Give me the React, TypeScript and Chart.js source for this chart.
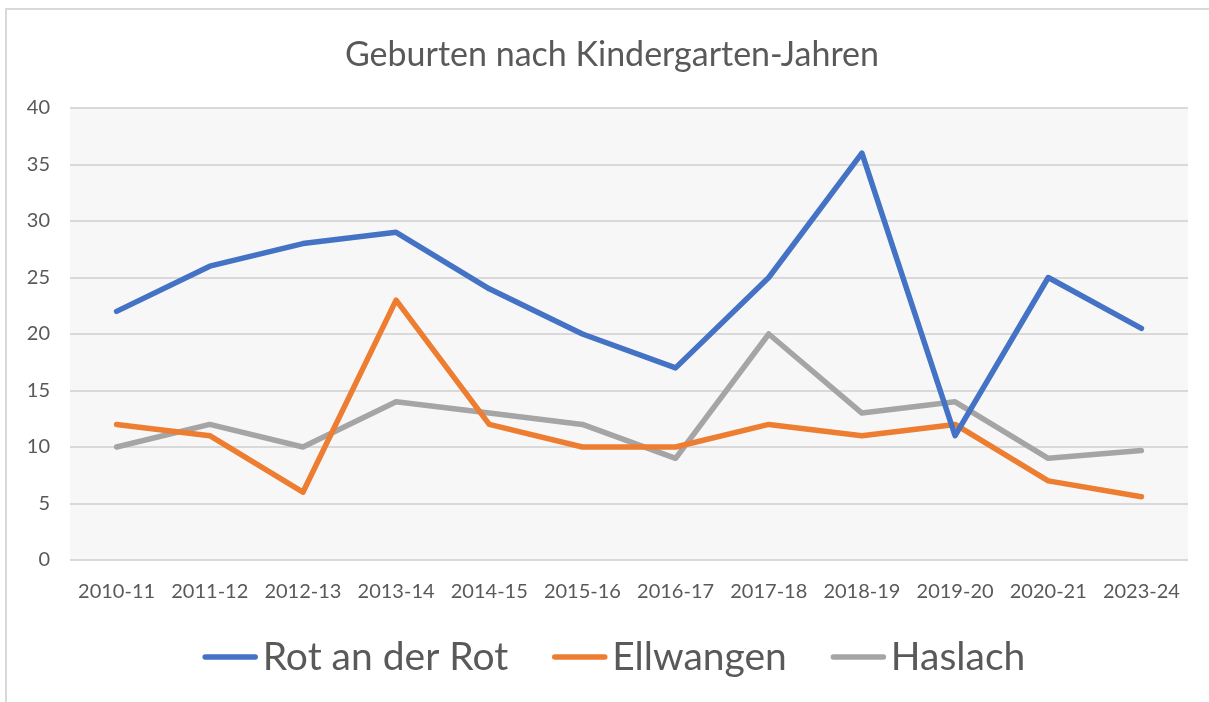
import React, { useEffect, useRef } from "react";
import { Chart, registerables } from "chart.js";

Chart.register(...registerables);

const categories = [
  "2010-11", "2011-12", "2012-13", "2013-14", "2014-15", "2015-16",
  "2016-17", "2017-18", "2018-19", "2019-20", "2020-21", "2023-24",
];
const rotAnDerRot = [22, 26, 28, 29, 24, 20, 17, 25, 36, 11, 25, 20.5];
const ellwangen = [12, 11, 6, 23, 12, 10, 10, 12, 11, 12, 7, 5.6];
const haslach = [10, 12, 10, 14, 13, 12, 9, 20, 13, 14, 9, 9.7];
const seriesNames = ["Rot an der Rot", "Ellwangen", "Haslach"];
const seriesColors = ["#4472C4", "#ED7D31", "#A5A5A5"];
const yMin = 0;
const yMax = 40;
const yStep = 5;
const chartTitle = "Geburten nach Kindergarten-Jahren";

const FONT = "Lato, 'Open Sans', sans-serif";
const TEXT = "#595959";

const framePlugin = {
  id: "frame",
  beforeDraw(chart: any) {
    const { ctx, chartArea } = chart;
    ctx.save();
    ctx.fillStyle = "#ffffff";
    ctx.fillRect(0, 0, chart.width, chart.height);
    ctx.strokeStyle = "#d9d9d9";
    ctx.lineWidth = 2;
    ctx.beginPath();
    ctx.moveTo(6, chart.height);
    ctx.lineTo(6, 9);
    ctx.lineTo(chart.width, 9);
    ctx.stroke();
    ctx.fillStyle = "#f7f7f7";
    ctx.fillRect(chartArea.left, chartArea.top, chartArea.right - chartArea.left, chartArea.bottom - chartArea.top);
    ctx.restore();
  },
};

const titlePlugin = {
  id: "customTitle",
  afterDraw(chart: any) {
    const ctx = chart.ctx;
    ctx.save();
    ctx.font = `34px ${FONT}`;
    ctx.fillStyle = TEXT;
    ctx.textAlign = "center";
    ctx.textBaseline = "middle";
    ctx.fillText(chartTitle, 612, 55);
    ctx.restore();
  },
};

const legendPlugin = {
  id: "customLegend",
  afterDraw(chart: any) {
    const ctx = chart.ctx;
    const lineLen = 55;
    const gap = 5;
    const spacing = 44;
    const centerX = 614;
    const centerY = 657;
    ctx.save();
    ctx.font = `39px ${FONT}`;
    const items = chart.data.datasets.map((ds: any) => ({
      label: ds.label,
      color: ds.borderColor,
      w: lineLen + gap + ctx.measureText(ds.label).width,
    }));
    const total = items.reduce((s: number, it: any) => s + it.w, 0) + spacing * (items.length - 1);
    let x = centerX - total / 2;
    for (const it of items) {
      ctx.strokeStyle = it.color;
      ctx.lineWidth = 5.5;
      ctx.lineCap = "round";
      ctx.beginPath();
      ctx.moveTo(x + 2.5, centerY);
      ctx.lineTo(x + lineLen - 2.5, centerY);
      ctx.stroke();
      ctx.fillStyle = TEXT;
      ctx.textBaseline = "middle";
      ctx.textAlign = "left";
      ctx.fillText(it.label, x + lineLen + gap, centerY);
      x += it.w + spacing;
    }
    ctx.restore();
  },
};

export default function App() {
  const ref = useRef<HTMLCanvasElement>(null);
  useEffect(() => {
    if (!ref.current) return;
    const data = [rotAnDerRot, ellwangen, haslach];
    const chart = new Chart(ref.current, {
      type: "line",
      data: {
        labels: categories,
        datasets: data.map((d, i) => ({
          label: seriesNames[i],
          data: d,
          borderColor: seriesColors[i],
          backgroundColor: seriesColors[i],
          borderWidth: 5.5,
          borderCapStyle: "round",
          borderJoinStyle: "round",
          pointRadius: 0,
          pointHoverRadius: 0,
          tension: 0,
          fill: false,
        })),
      },
      options: {
        responsive: false,
        animation: false,
        layout: { padding: { left: 0, right: 21, top: 108, bottom: 92 } },
        plugins: {
          legend: { display: false },
          tooltip: { enabled: false },
          title: { display: false },
        },
        scales: {
          x: {
            offset: true,
            grid: { display: false, drawTicks: false },
            border: { display: false },
            ticks: { color: TEXT, font: { family: FONT, size: 20 }, padding: 20, maxRotation: 0, autoSkip: false },
            afterFit(scale: any) { scale.height = 50; },
          },
          y: {
            min: yMin,
            max: yMax,
            grid: { color: "#d9d9d9", lineWidth: 2, drawTicks: false },
            border: { display: false },
            ticks: { stepSize: yStep, color: TEXT, font: { family: FONT, size: 20 }, padding: 20 },
            afterFit(scale: any) { scale.width = 70; },
          },
        },
      },
      plugins: [framePlugin, titlePlugin, legendPlugin],
    } as any);
    return () => chart.destroy();
  }, []);
  return (
    <div style={{ position: "fixed", left: 0, top: 0, width: 1209, height: 702, background: "#fff" }}>
      <canvas ref={ref} width={1209} height={702} style={{ display: "block" }} />
    </div>
  );
}
